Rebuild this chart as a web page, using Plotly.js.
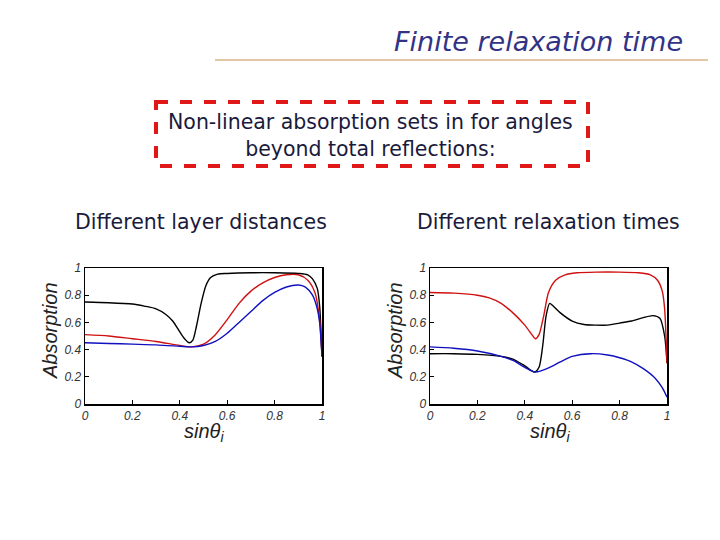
<!DOCTYPE html>
<html>
<head>
<meta charset="utf-8">
<script src="https://cdn.plot.ly/plotly-3.0.1.min.js"></script>
<style>
  html, body { margin: 0; padding: 0; background: #fff; }
  #chart { width: 720px; height: 540px; }
</style>
</head>
<body>
<div id="chart"></div>
<script>
// Left panel: different layer distances
const xLeftBlack = [0, 0.1, 0.2, 0.25, 0.3, 0.34, 0.37, 0.4, 0.42, 0.44, 0.455, 0.47, 0.49, 0.51, 0.53, 0.56, 0.6, 0.7, 0.8, 0.9, 0.94, 0.96, 0.98, 0.99, 1.0];
const yLeftBlack = [0.75, 0.745, 0.735, 0.72, 0.70, 0.66, 0.61, 0.53, 0.48, 0.45, 0.47, 0.57, 0.74, 0.87, 0.93, 0.955, 0.96, 0.965, 0.965, 0.96, 0.95, 0.92, 0.85, 0.72, 0.35];
const xLeftRed = [0, 0.1, 0.2, 0.3, 0.4, 0.45, 0.5, 0.55, 0.6, 0.65, 0.7, 0.75, 0.8, 0.85, 0.9, 0.94, 0.97, 0.99, 1.0];
const yLeftRed = [0.51, 0.50, 0.48, 0.46, 0.43, 0.42, 0.44, 0.51, 0.62, 0.74, 0.83, 0.89, 0.93, 0.95, 0.95, 0.91, 0.82, 0.62, 0.35];
const xLeftBlue = [0, 0.1, 0.2, 0.3, 0.4, 0.45, 0.5, 0.55, 0.6, 0.65, 0.7, 0.75, 0.8, 0.85, 0.9, 0.93, 0.96, 0.98, 0.99, 1.0];
const yLeftBlue = [0.45, 0.445, 0.44, 0.435, 0.425, 0.42, 0.43, 0.46, 0.52, 0.60, 0.68, 0.76, 0.82, 0.86, 0.875, 0.86, 0.80, 0.70, 0.60, 0.35];

// Right panel: different relaxation times
const xRightRed = [0, 0.1, 0.2, 0.25, 0.3, 0.35, 0.4, 0.43, 0.445, 0.46, 0.48, 0.5, 0.53, 0.57, 0.62, 0.7, 0.8, 0.88, 0.93, 0.96, 0.98, 0.99, 1.0];
const yRightRed = [0.82, 0.815, 0.80, 0.78, 0.74, 0.67, 0.58, 0.51, 0.48, 0.51, 0.65, 0.82, 0.91, 0.95, 0.965, 0.97, 0.97, 0.965, 0.95, 0.91, 0.83, 0.70, 0.30];
const xRightBlack = [0, 0.1, 0.2, 0.3, 0.35, 0.4, 0.44, 0.46, 0.475, 0.49, 0.505, 0.52, 0.55, 0.6, 0.65, 0.7, 0.75, 0.8, 0.85, 0.9, 0.94, 0.97, 0.99, 1.0];
const yRightBlack = [0.37, 0.37, 0.365, 0.35, 0.33, 0.28, 0.235, 0.27, 0.42, 0.65, 0.74, 0.72, 0.67, 0.61, 0.585, 0.58, 0.58, 0.595, 0.61, 0.635, 0.65, 0.63, 0.50, 0.30];
const xRightBlue = [0, 0.1, 0.2, 0.3, 0.35, 0.4, 0.445, 0.5, 0.55, 0.6, 0.68, 0.75, 0.8, 0.85, 0.9, 0.95, 0.98, 1.0];
const yRightBlue = [0.42, 0.41, 0.39, 0.35, 0.32, 0.27, 0.235, 0.265, 0.31, 0.35, 0.37, 0.36, 0.34, 0.31, 0.26, 0.19, 0.12, 0.05];

const tickVals = [0, 0.2, 0.4, 0.6, 0.8, 1];
const tickText = ["0", "0.2", "0.4", "0.6", "0.8", "1"];

const W = 720, H = 540;
const px = v => v / W;
const py = v => 1 - v / H;

function curve(x, y, color, xa, ya) {
  return {
    type: "scatter", mode: "lines", x: x, y: y,
    xaxis: xa, yaxis: ya,
    line: { color: color, width: 1.4, shape: "spline", smoothing: 0.7 },
    hoverinfo: "skip", showlegend: false
  };
}

const traces = [
  curve(xLeftBlack, yLeftBlack, "#000000", "x", "y"),
  curve(xLeftRed, yLeftRed, "#d01010", "x", "y"),
  curve(xLeftBlue, yLeftBlue, "#1010c0", "x", "y"),
  curve(xRightBlack, yRightBlack, "#000000", "x2", "y2"),
  curve(xRightRed, yRightRed, "#d01010", "x2", "y2"),
  curve(xRightBlue, yRightBlue, "#1010c0", "x2", "y2")
];

const tickFont = { family: "Liberation Sans, Arial", size: 12, color: "#333333", style: "italic" };
const titleFont = { family: "Liberation Sans, Arial", size: 20, color: "#222222", style: "italic" };

function axis(domain, anchor) {
  return {
    domain: domain, anchor: anchor, range: [0, 1],
    tickvals: tickVals, ticktext: tickText, tickfont: tickFont,
    ticks: "inside", ticklen: 4, tickcolor: "#000",
    showline: true, linecolor: "#000", linewidth: 1.5, mirror: true,
    showgrid: false, zeroline: false
  };
}

// axis titles as paper annotations so they sit tight to the tick labels
function axisTitles(cx, cy) {
  return [
    { text: "sinθ<sub>i</sub>", xref: "paper", yref: "paper", x: px(cx), y: py(432),
      xanchor: "center", yanchor: "middle", showarrow: false, font: titleFont },
    { text: "Absorption", xref: "paper", yref: "paper", x: px(cy), y: py(331),
      xanchor: "center", yanchor: "middle", showarrow: false, textangle: -90,
      font: { ...titleFont, size: 20 } }
  ];
}

const textFont = { family: "DejaVu Sans, Verdana", size: 20.5, color: "#1a1a3c" };

const layout = {
  width: W, height: H,
  margin: { l: 0, r: 0, t: 0, b: 0 },
  paper_bgcolor: "#ffffff", plot_bgcolor: "#ffffff",
  showlegend: false,
  xaxis: axis([px(85), px(322)], "y"),
  yaxis: axis([py(404), py(268)], "x"),
  xaxis2: axis([px(430), px(667)], "y2"),
  yaxis2: axis([py(404), py(268)], "x2"),
  shapes: [
    { type: "line", xref: "paper", yref: "paper", x0: px(215), x1: px(708), y0: py(60), y1: py(60),
      line: { color: "#c8904a", width: 1 } },
    { type: "rect", xref: "paper", yref: "paper", x0: px(156), x1: px(588), y0: py(102), y1: py(166),
      line: { color: "#e01818", width: 4, dash: "dash" } }
  ],
  annotations: [
    { text: "Finite relaxation time", xref: "paper", yref: "paper", x: px(685), y: py(42),
      xanchor: "right", yanchor: "middle", showarrow: false,
      font: { family: "DejaVu Sans, Verdana", size: 27, color: "#333385", style: "italic" } },
    { text: "Non-linear absorption sets in for angles<br>beyond total reflections:", xref: "paper", yref: "paper",
      x: px(371), y: py(135), xanchor: "center", yanchor: "middle", showarrow: false,
      font: textFont, align: "center" },
    { text: "Different layer distances", xref: "paper", yref: "paper", x: px(201), y: py(222),
      xanchor: "center", yanchor: "middle", showarrow: false, font: textFont },
    { text: "Different relaxation times", xref: "paper", yref: "paper", x: px(548), y: py(222),
      xanchor: "center", yanchor: "middle", showarrow: false, font: textFont },
    ...axisTitles(204, 50),
    ...axisTitles(550, 395)
  ]
};

Plotly.newPlot("chart", traces, layout, { staticPlot: true, displayModeBar: false });
</script>
</body>
</html>
